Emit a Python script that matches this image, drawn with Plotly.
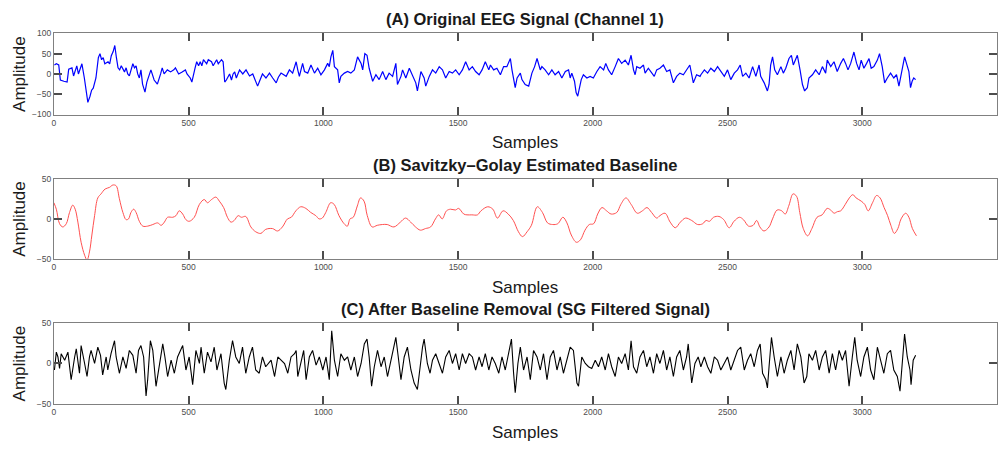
import plotly.graph_objects as go

# ---- (A) raw EEG, channel 1: (sample index, amplitude) ----
raw_samples = [
    2, 9, 18, 24, 37, 49, 55, 67, 73, 85, 91, 104, 113, 122, 126, 134, 140, 146, 152, 156,
    165, 171, 177, 183, 189, 201, 207, 213, 220, 226, 232, 238, 244, 250, 262, 268, 274, 280, 293, 299,
    305, 311, 317, 323, 329, 338, 345, 354, 360, 372, 384, 396, 402, 409, 421, 433, 445, 451, 463, 476,
    488, 494, 506, 512, 518, 524, 530, 537, 543, 549, 555, 567, 573, 585, 591, 604, 610, 622, 628, 634,
    640, 652, 659, 665, 671, 677, 689, 701, 713, 726, 738, 750, 756, 762, 774, 787,
    800, 812, 825, 833, 843, 862, 874, 886, 893, 899, 905, 911, 923, 930, 942, 954, 967, 979, 991, 1004,
    1016, 1022, 1028, 1035, 1041, 1053, 1059, 1065, 1078, 1090, 1102, 1115, 1127, 1140, 1146, 1154, 1162, 1170, 1183, 1195,
    1207, 1220, 1232, 1244, 1257, 1263, 1269, 1275, 1288, 1294, 1306, 1319, 1331, 1343, 1349, 1356, 1362, 1374, 1380, 1393,
    1405, 1417, 1430, 1442, 1454, 1467, 1479, 1491, 1504, 1516, 1528, 1541, 1553, 1565, 1578,
    1589, 1601, 1614, 1620, 1632, 1644, 1657, 1669, 1681, 1694, 1700, 1706, 1712, 1719, 1731, 1737, 1749, 1762, 1768, 1774,
    1784, 1793, 1805, 1811, 1823, 1836, 1848, 1860, 1873, 1885, 1898, 1910, 1916, 1922, 1932, 1938, 1944, 1951, 1957, 1965,
    1978, 1990, 2002, 2015, 2027, 2040, 2048, 2058, 2070, 2083, 2095, 2107, 2120, 2132, 2142, 2151, 2157, 2163, 2175, 2188,
    2194, 2206, 2219, 2228, 2237, 2249, 2262, 2274, 2286, 2299, 2311, 2323, 2336, 2348, 2360, 2373, 2385, 2398,
    2401, 2414, 2426, 2438, 2451, 2463, 2475, 2488, 2500, 2512, 2525, 2537, 2547, 2556, 2568, 2580, 2593, 2605, 2617, 2623,
    2636, 2648, 2654, 2660, 2667, 2675, 2685, 2698, 2707, 2716, 2728, 2737, 2744, 2753, 2759, 2769, 2778, 2786, 2796, 2802,
    2815, 2827, 2840, 2852, 2864, 2870, 2883, 2895, 2907, 2920, 2930, 2938, 2947, 2957, 2969, 2979, 2988, 2996, 3006, 3016,
    3025, 3033, 3043, 3056, 3064, 3074, 3083, 3093, 3105, 3117, 3127, 3136, 3142, 3148, 3157, 3164, 3173, 3179, 3185, 3191,
    3198,
]
raw_values = [
    22, 25, 22, -15, -18, -20, 12, 15, -5, 20, 0, 25, -10, -50, -70, -55, -40, -35, -20, -10,
    40, 50, 35, 40, 25, 30, 25, 45, 55, 70, 40, 15, 10, 20, 5, 15, 0, -5, 25, 15,
    20, 0, -10, 10, -25, -45, -20, 0, 10, -15, -25, 0, 15, 0, 10, 5, 10, 15, 0, 5,
    10, 0, -10, -20, 0, 15, 30, 20, 30, 20, 35, 25, 35, 30, 20, 35, 25, 35, 30, -20,
    -15, 0, -15, 0, 5, -10, 10, 0, 10, -5, 0, -20, -30, -20, 0, -10,
    2, -10, -22, -8, 2, -6, 10, 2, 18, 30, 10, -6, 26, 6, 2, 22, 2, 14, -2, 10,
    26, 18, 42, 58, 18, 10, -22, -6, 2, 6, 2, 10, 42, 26, 10, 50, 46, 14, -18, -2,
    -14, 6, -14, 2, -6, 14, 26, -26, -6, 10, -10, 14, -6, -22, -42, -18, 6, -10, -30, -6,
    10, 2, 18, 10, -10, 6, 2, 10, -2, 10, 30, 10, 18, 6, -2,
    10, 30, 10, 22, 10, 14, -2, 18, 18, 38, 10, -14, -34, -10, 2, -14, -26, -30, -14, 2,
    18, 38, 10, 18, 10, -2, 10, -2, 6, -10, 6, 10, -10, 2, -18, -46, -55, -34, -14, -2,
    -10, -6, -10, 6, 18, 10, 26, 10, -2, 18, 38, 26, 34, 22, 46, 10, -2, 18, 14, 22,
    2, 14, 2, -6, 10, 14, 22, 6, 10, -22, -6, 2, -2, 10, 22, -22, -2, -6,
    -2, 10, 2, 14, 6, 18, 6, -6, 10, -14, 2, 10, 22, -6, 2, -10, 18, -6, 22, -6,
    -22, -42, -26, 22, 42, 10, -2, 18, 2, 14, 38, 46, 22, 34, 46, 10, -26, -42, -34, -10,
    -2, 10, -2, 18, 2, 34, 18, 30, 6, 26, 38, 26, 10, 26, 54, 26, 10, 34, 14, 26,
    38, 14, 18, 34, 50, 18, -22, -10, 2, -10, -2, -30, -10, 14, 42, 26, 6, -34, -18, -10,
    -14,
]

# ---- (B) Savitzky-Golay baseline estimate ----
base_samples = [
    0, 9, 21, 33, 46, 58, 70, 79, 89, 101, 114, 123, 132, 141, 151, 163, 175, 190, 206, 219,
    231, 243, 256, 268, 277, 286, 296, 305, 317, 330, 348, 367, 385, 398, 410, 422, 441, 453, 465, 478,
    490, 502, 521, 540, 558, 570, 585, 601, 614, 630, 644, 657, 669, 684, 696, 712, 731, 749, 768, 786,
    811, 830, 848, 867, 881, 898, 916, 935, 953, 972, 984, 996, 1009, 1027, 1040, 1058, 1077, 1089, 1099, 1111,
    1126, 1138, 1151, 1163, 1181, 1200, 1219, 1237, 1262, 1286, 1305, 1324, 1342, 1360, 1379, 1398, 1416, 1428, 1441, 1457,
    1472, 1490, 1502, 1521, 1533, 1551, 1572, 1585, 1610, 1629, 1646, 1667, 1686, 1705, 1724, 1739, 1756, 1772, 1794, 1813,
    1832, 1851, 1870, 1889, 1904, 1920, 1939, 1954, 1971, 1987, 2003, 2018, 2034, 2051, 2068, 2089, 2104, 2123, 2142, 2165,
    2184, 2201, 2218, 2237, 2249, 2268, 2287, 2306, 2325, 2344, 2367, 2389, 2408, 2420, 2433, 2448, 2468, 2486, 2506, 2524,
    2544, 2559, 2578, 2595, 2608, 2620, 2635, 2654, 2667, 2684, 2701, 2714, 2728, 2743, 2756, 2768, 2781, 2797, 2813, 2832,
    2851, 2870, 2886, 2895, 2908, 2920, 2937, 2952, 2965, 2977, 2996, 3009, 3022, 3038, 3053, 3066, 3081, 3094, 3106, 3119,
    3132, 3144, 3161, 3173, 3186, 3201,
]
base_values = [
    20, 12, -6, -10, -6, 8, 17, 12, -4, -29, -45, -51, -41, -20, 4, 26, 31, 37, 39, 42,
    41, 25, 8, -1, 0, 8, 12, 8, -3, -9, -9, -7, -5, -8, -4, 2, 2, 4, 10, 6,
    -1, -3, 2, 18, 24, 20, 24, 27, 22, 14, 2, -4, -2, 4, 2, 3, -10, -16, -18, -13,
    -12, -15, -10, 0, 2, 10, 15, 13, 8, 4, 0, 1, 8, 20, 18, 4, -6, -9, 0, 2,
    16, 26, 22, 4, -10, -8, -7, -7, -10, -4, 1, -4, -10, -14, -12, -10, 0, 5, 0, 10,
    12, 11, 13, 6, 5, 5, 5, 10, 15, 12, 1, 10, 6, -2, -16, -22, -16, -8, 15, 8,
    -5, -7, -6, 2, -5, -20, -29, -26, -14, -7, -6, 6, 14, 10, 6, 8, 18, 26, 18, 7,
    10, 14, 8, 1, 4, 7, -4, -11, -4, 1, -2, -7, -6, -2, -3, 2, 3, -1, -11, -3,
    2, -1, -9, -8, -2, -10, -15, -10, 0, 11, 10, 6, 17, 31, 28, 8, -12, -21, -12, 2,
    5, 13, 10, 7, 9, 10, 18, 26, 30, 26, 22, 18, 10, 20, 29, 26, 14, 4, -8, -18,
    -12, 0, 7, 2, -12, -21,
]

# ---- (C) signal after baseline removal ----
clean_samples = [
    2, 9, 15, 21, 27, 40, 52, 64, 77, 83, 95, 101, 114, 123, 132, 138, 151, 163, 173, 181,
    194, 200, 212, 225, 231, 243, 256, 268, 280, 293, 305, 314, 323, 333, 342, 348, 358, 367, 379, 391,
    404, 412, 422, 435, 447, 459, 478, 490, 502, 515, 527, 540, 546, 558, 570, 583, 595, 605, 620, 632,
    638, 651, 663, 675, 688, 700, 712, 725, 737, 749, 762, 774, 786,
    806, 819, 831, 843, 856, 868, 880, 893, 899, 905, 917, 927, 936, 948, 960, 973, 985, 998, 1010, 1022,
    1031, 1041, 1053, 1065, 1078, 1090, 1102, 1115, 1127, 1140, 1152, 1162, 1170, 1179, 1189, 1201, 1214, 1226, 1238, 1251,
    1260, 1269, 1278, 1288, 1300, 1312, 1325, 1337, 1349, 1359, 1368, 1374, 1386, 1396, 1405, 1417, 1430, 1442, 1454, 1467,
    1479, 1491, 1504, 1516, 1528, 1541, 1553, 1565, 1578,
    1589, 1601, 1614, 1626, 1638, 1651, 1663, 1675, 1688, 1698, 1706, 1712, 1722, 1731, 1743, 1756, 1768, 1780, 1793, 1805,
    1817, 1830, 1842, 1854, 1867, 1879, 1891, 1904, 1916, 1928, 1941, 1947, 1959, 1972, 1984, 1996, 2009, 2021, 2033, 2046,
    2058, 2070, 2083, 2095, 2107, 2120, 2132, 2142, 2151, 2163, 2175, 2188, 2200, 2212, 2225, 2237, 2249, 2262, 2274, 2286,
    2299, 2311, 2323, 2336, 2348, 2354, 2367, 2379, 2391,
    2401, 2414, 2426, 2438, 2451, 2463, 2475, 2488, 2500, 2512, 2525, 2537, 2549, 2562, 2574, 2586, 2599, 2611, 2621, 2630,
    2642, 2648, 2654, 2663, 2673, 2685, 2698, 2710, 2722, 2735, 2747, 2759, 2772, 2784, 2794, 2802, 2815, 2827, 2840, 2852,
    2864, 2877, 2889, 2901, 2914, 2926, 2938, 2951, 2963, 2972, 2981, 2994, 3006, 3019, 3031, 3043, 3056, 3068, 3080, 3093,
    3105, 3117, 3130, 3140, 3148, 3157, 3167, 3177, 3181, 3189, 3198,
]
clean_values = [
    -8, 14, 8, -6, 12, 4, 14, -20, 8, 18, -12, 22, 0, -16, 8, 16, 0, 20, 10, -14,
    8, -8, 12, 28, 8, -12, 8, -6, 16, 10, -12, 16, 22, 8, -40, -20, 28, 16, -28, -4,
    24, 8, -16, 4, -12, 8, 22, -8, 8, -26, 16, 0, 20, -12, 14, 2, 20, -8, 12, -24,
    -32, 4, 28, 8, 0, 20, -12, 8, 20, -8, -12, 8, -4,
    4, -16, 8, 4, 0, -12, 8, 12, 16, -16, 4, 16, -20, 8, 16, -2, 8, -8, 8, -20,
    40, 4, -16, 12, 4, 8, -8, 8, -16, 0, 24, 30, 8, -28, -4, 16, -4, 8, -16, 4,
    20, 32, 8, -20, 8, 20, -8, -24, -32, 0, 20, 30, 0, -12, 4, 12, 0, -12, 8, 16,
    0, 12, -8, 12, 0, 12, 8, -8, 8,
    -4, 12, -8, 8, 0, -12, 8, -8, 16, 30, -12, -36, 0, 20, -8, 8, -20, 16, 8, -8,
    12, -20, 8, 16, -8, 8, -12, 4, 20, 16, -24, -28, 8, 0, -4, -6, 4, -4, 8, -8,
    12, -4, -16, 8, 0, 12, -8, 28, -4, -12, 8, 16, -4, 8, -12, 12, 0, 16, -8, 8,
    -16, 8, 16, -8, 8, 24, -24, 0, 8,
    -4, 8, -4, -12, 8, 4, -8, 0, 8, -8, 4, 16, 20, -8, 4, 12, -4, 16, 24, -12,
    -20, -30, -4, 32, 8, -16, 8, -12, 4, 16, -8, 24, 8, -24, -16, 12, 4, 16, -8, 8,
    16, -12, 12, -8, 16, 4, 16, -28, 8, 32, 4, -16, 8, 20, -8, -20, 20, 4, -12, 12,
    16, -8, -16, -34, 0, 36, 8, -8, -26, 4, 10,
]

# panel titles and axis ranges
panel_titles = [
    "(A) Original EEG Signal (Channel 1)",
    "(B) Savitzky\u2013Golay Estimated Baseline",
    "(C) After Baseline Removal (SG Filtered Signal)",
]
y_ranges = [[-100, 100], [-50, 50], [-50, 50]]
y_dticks = [50, 50, 50]

W, H = 1003, 449
FONT = "Liberation Sans, Arial, Helvetica, sans-serif"

# plot-area boxes in pixels: (top, bottom)
boxes = [(29, 112), (177.5, 260), (325, 408.3)]
x_left, x_right = 52, 997

fig = go.Figure()
series = [
    (raw_samples, raw_values, "#0000ff", 1.2),
    (base_samples, base_values, "#ff5050", 1.0),
    (clean_samples, clean_values, "#000000", 1.1),
]
for i, (xs, ys, col, lw) in enumerate(series):
    fig.add_trace(go.Scatter(
        x=xs, y=ys, mode="lines",
        line=dict(color=col, width=lw, shape="spline" if i == 1 else "linear", smoothing=1.0),
        xaxis="x" if i == 0 else f"x{i+1}",
        yaxis="y" if i == 0 else f"y{i+1}",
        showlegend=False, hoverinfo="skip",
    ))

layout = dict(
    width=W, height=H, margin=dict(l=0, r=0, t=0, b=0),
    paper_bgcolor="white", plot_bgcolor="white",
    annotations=[],
)
for i in range(3):
    top, bot = boxes[i]
    sfx = "" if i == 0 else str(i + 1)
    layout[f"xaxis{sfx}"] = dict(
        domain=[x_left / W, x_right / W], range=[0, 3500], dtick=500, tick0=0,
        showgrid=False, zeroline=False, showline=True, linecolor="#808080", linewidth=1,
        mirror="allticks", ticks="inside", ticklen=8, tickcolor="#4d4d4d", tickwidth=1.5,
        tickfont=dict(family=FONT, size=8.5, color="#4d4d4d"),
        anchor=f"y{sfx}",
    )
    layout[f"yaxis{sfx}"] = dict(
        domain=[1 - bot / H, 1 - top / H], range=y_ranges[i], dtick=y_dticks[i], tick0=0,
        showgrid=False, zeroline=False, showline=True, linecolor="#808080", linewidth=1,
        mirror="allticks", ticks="inside", ticklen=8, tickcolor="#4d4d4d", tickwidth=1.5,
        tickfont=dict(family=FONT, size=8.5, color="#4d4d4d"),
        anchor=f"x{sfx}",
    )
    cx = (x_left + x_right) / 2 / W
    # panel title
    layout["annotations"].append(dict(
        text=f"<b>{panel_titles[i]}</b>", xref="paper", yref="paper",
        x=cx, y=1 - (top - 3) / H, xanchor="center", yanchor="bottom",
        showarrow=False, font=dict(family=FONT, size=16.5, color="#1a1a1a"),
    ))
    # x axis label
    layout["annotations"].append(dict(
        text="Samples", xref="paper", yref="paper",
        x=cx, y=1 - (bot + 17) / H, xanchor="center", yanchor="top",
        showarrow=False, font=dict(family=FONT, size=17, color="#1a1a1a"),
    ))
    # y axis label
    layout["annotations"].append(dict(
        text="Amplitude", xref="paper", yref="paper",
        x=18 / W, y=1 - (top + bot) / 2 / H, xanchor="center", yanchor="middle",
        textangle=-90, showarrow=False, font=dict(family=FONT, size=17, color="#1a1a1a"),
    ))

fig.update_layout(**layout)
fig.write_html("out.html")
